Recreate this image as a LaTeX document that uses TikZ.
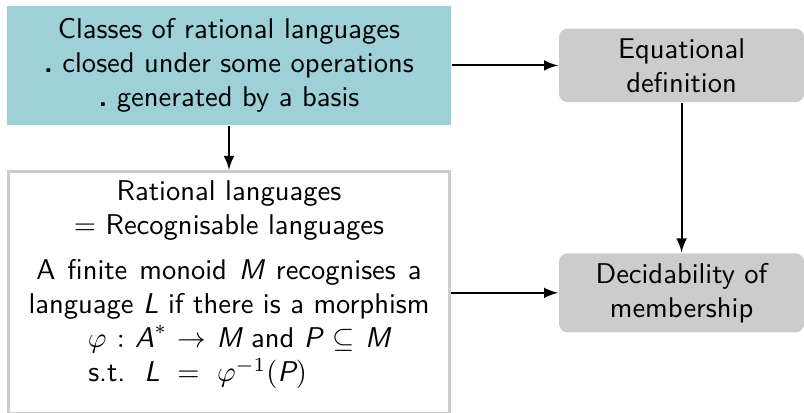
\documentclass[tikz,border=0pt]{standalone}
\usepackage{amsmath}
\usepackage{amssymb}
\usetikzlibrary{positioning}

\definecolor{classcyan}{RGB}{158,209,215}
\definecolor{boxgrey}{RGB}{204,204,204}
\newcommand{\sv}[1]{\textit{#1}}

\begin{document}
\begin{tikzpicture}[font=\sffamily, >=latex, line width=0.7pt, node distance=158.4pt, classbox/.style={rectangle, fill=classcyan, minimum width=155.4pt, minimum height=41.7pt, align=center, inner sep=0pt}, greybox/.style={rectangle, rounded corners=3pt, fill=boxgrey, minimum width=85.8pt, align=center}, ratbox/.style={rectangle, draw=boxgrey, line width=1.2pt, minimum width=154.2pt, minimum height=84.9pt}]

  \useasboundingbox (-80.15pt,22.9pt) rectangle (201.25pt,-121.6pt);

  \node[classbox] (classes) {Classes of rational languages\\ \textbf{.}~closed under some operations\\ \textbf{.}~generated by a basis};
  \node[greybox, right of=classes] (equational) {Equational\\definition};
  \node[ratbox, below of=classes, node distance=79.6pt] (rational) {};
  \node[align=center, yshift=2.8pt] (rationaltext) at (rational) {Rational languages\\ $=$ Recognisable languages\\[3.5pt] \spaceskip=4.2pt A finite monoid $\sv{M}$ recognises a\\ language $\sv{L}$ if there is a morphism\\ \hspace*{7pt}$\varphi\mskip1.5mu:\mskip1.5mu\sv{A}^*\mskip1.5mu\to\mskip1.5mu\sv{M}$ and $\sv{P}\mskip1.5mu\subseteq\mskip1.5mu\sv{M}$\\ s.t.~\ $\sv{L}\ =\ \varphi^{-1}(\sv{P})$\hspace*{22pt}};
  \node[greybox, right of=rational] (decidable) {Decidability of\\membership};

  \draw[->] (classes) -- (equational);
  \draw[->] (classes) -- (rational);
  \draw[->] (rational) -- (decidable);
  \draw[->] (equational) -- (decidable);
\end{tikzpicture}
\end{document}
